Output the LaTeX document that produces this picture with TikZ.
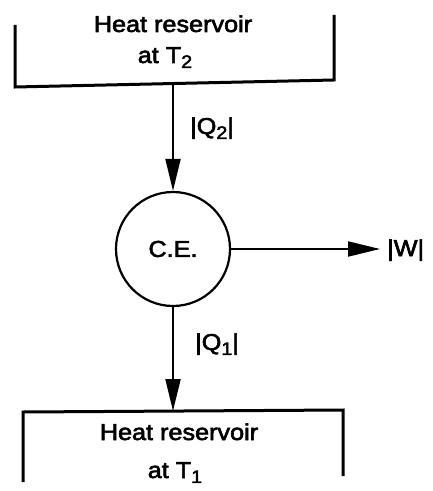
\documentclass[tikz,border=0pt]{standalone}
\usepackage{fontspec}
\setmainfont[FakeBold=2.5]{Liberation Sans}
\usepackage{graphicx}
\usetikzlibrary{arrows.meta}
\newcommand\lbltext[1]{\scalebox{1.1}[1]{#1}}
\newcommand\sbs[1]{\raisebox{-0.4ex}{\fontsize{18}{18}\selectfont #1}}
\begin{document}
\begin{tikzpicture}[x=1bp,y=-1bp,
  lbl/.style={font=\fontsize{23}{27}\selectfont, inner sep=0pt, anchor=base},
  lblw/.style={lbl, anchor=base west},
  boxline/.style={line width=3bp, line cap=butt, line join=miter},
  engine/.style={circle, draw, line width=2.2bp, minimum size=114bp, inner sep=0pt, font=\fontsize{23}{27}\selectfont},
  arr/.style={line width=2bp, -{Triangle[length=32bp,width=15bp]}}]
\useasboundingbox (0,0) rectangle (432,491);
% top reservoir
\draw[boxline] (15,25) -- (15,87) -- (334,80) -- (334,15);
\node[lbl] (r2a) at (173,32) {\lbltext{Heat reservoir}};
\node[lbl] (r2b) at (165,63) {\lbltext{at T\sbs{2}}};
% bottom reservoir
\draw[boxline] (23,482) -- (23,412) -- (343,410) -- (343,476);
\node[lbl] (r1a) at (179,440) {\lbltext{Heat reservoir}};
\node[lbl] (r1b) at (175,478) {\lbltext{at T\sbs{1}}};
% engine
\node[engine] (ce) at (173,249) {\lbltext{C.E.}};
\coordinate (q2s) at (173,83.5);
\coordinate (q1e) at (173,411);
\coordinate (we) at (380,249);
\draw[arr] (q2s) -- (ce.north);
\draw[arr] (ce.south) -- (q1e);
\draw[arr] (ce.east) -- (we);
\node[lblw] (q2) at (190,134) {\lbltext{|Q\sbs{2}|}};
\node[lblw] (q1) at (195,350) {\lbltext{|Q\sbs{1}|}};
\node[lblw] (w) at (387,256) {\lbltext{|W|}};
\end{tikzpicture}
\end{document}
